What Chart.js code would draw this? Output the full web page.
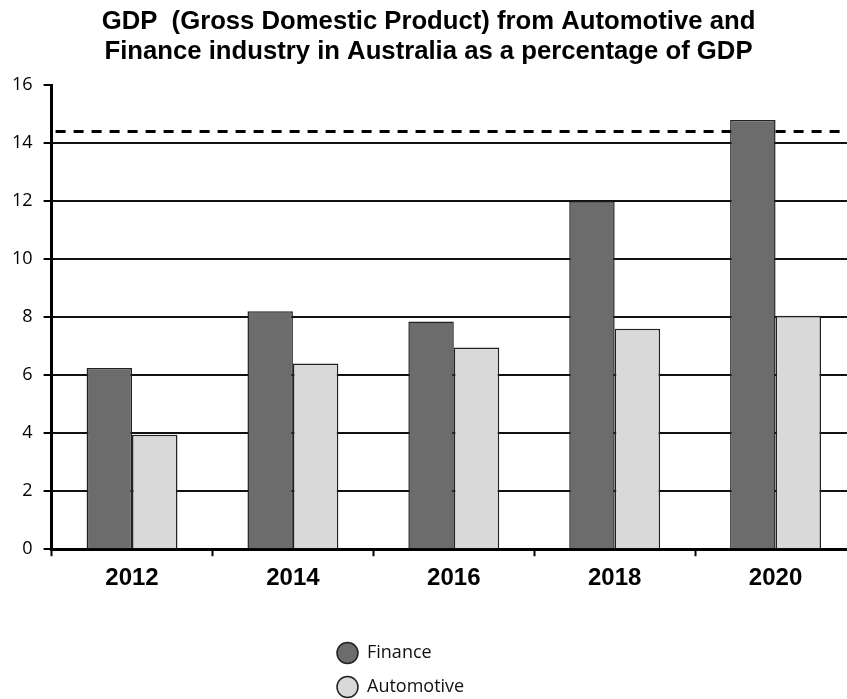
<!DOCTYPE html>
<html>
<head>
<meta charset="utf-8">
<title>GDP from Automotive and Finance industry in Australia</title>
<script src="https://cdn.jsdelivr.net/npm/chart.js@4.4.1/dist/chart.umd.min.js"></script>
<style>
  html, body { margin: 0; padding: 0; background: #ffffff; overflow: hidden; }
  #wrap { width: 847px; height: 699px; overflow: hidden; }
  canvas { display: block; }
</style>
</head>
<body>
<div id="wrap"><canvas id="gdp" width="860" height="699"></canvas></div>
<script>
// Share of GDP (%) by industry and year
const years = ['2012', '2014', '2016', '2018', '2020'];
const finance = [6.25, 8.2, 7.85, 12.0, 14.8];
const automotive = [3.95, 6.4, 6.95, 7.6, 8.05];
// Reference level shown as a dashed horizontal line
const referenceLevel = 14.4;
// Value axis range
const yMin = 0;
const yMax = 16;
const yStep = 2;

const titleLines = [
  'GDP  (Gross Domestic Product) from Automotive and',
  'Finance industry in Australia as a percentage of GDP'
];

Chart.defaults.font.family = "'Open Sans', sans-serif";
Chart.defaults.color = '#000';

// Dashed reference line drawn behind the bars
const dashedLevel = {
  id: 'dashedLevel',
  beforeDatasetsDraw(chart) {
    const { ctx, chartArea, scales } = chart;
    const py = scales.y.getPixelForValue(referenceLevel);
    ctx.save();
    ctx.beginPath();
    ctx.setLineDash([10, 8]);
    ctx.lineWidth = 3;
    ctx.strokeStyle = '#000';
    ctx.moveTo(chartArea.left + 4, py);
    ctx.lineTo(chartArea.right, py);
    ctx.stroke();
    ctx.restore();
  }
};

// Stack the legend entries in a single column under the plot
const legendColumn = {
  id: 'legendColumn',
  afterLayout(chart) {
    const lg = chart.legend;
    lg.left = 321;
    lg.right = 560;
    lg.width = lg.right - lg.left;
    lg.top = 628;
    lg.bottom = chart.height;
    lg.height = lg.bottom - lg.top;
  }
};

new Chart(document.getElementById('gdp'), {
  type: 'bar',
  data: {
    labels: years,
    datasets: [
      {
        label: 'Finance',
        data: finance,
        backgroundColor: '#6c6c6c',
        borderColor: '#222222',
        borderWidth: 1.5,
        barPercentage: 1,
        categoryPercentage: 0.565
      },
      {
        label: 'Automotive',
        data: automotive,
        backgroundColor: '#d9d9d9',
        borderColor: '#222222',
        borderWidth: 1.5,
        barPercentage: 1,
        categoryPercentage: 0.565
      }
    ]
  },
  options: {
    responsive: false,
    animation: false,
    devicePixelRatio: 1,
    layout: { padding: { left: 1, right: 4, top: 0, bottom: 54 } },
    plugins: {
      title: {
        display: true,
        text: titleLines,
        color: '#000',
        font: { family: "'Liberation Sans', Arial, sans-serif", size: 25.7, weight: 'bold', lineHeight: 1.17 },
        padding: { top: 7, bottom: 18 }
      },
      legend: {
        position: 'bottom',
        align: 'start',
        labels: {
          usePointStyle: true,
          pointStyle: 'circle',
          pointStyleWidth: 21,
          boxHeight: 14.85,
          padding: 16,
          color: '#111',
          font: { size: 18 }
        }
      },
      tooltip: { enabled: false }
    },
    scales: {
      x: {
        grid: {
          display: true,
          drawOnChartArea: false,
          drawTicks: true,
          tickLength: 7,
          tickColor: '#000',
          tickWidth: 2
        },
        border: { display: true, color: '#000', width: 3 },
        ticks: {
          color: '#000',
          padding: 8,
          font: { family: "'Liberation Sans', Arial, sans-serif", size: 24, weight: 'bold' }
        }
      },
      y: {
        min: yMin,
        max: yMax,
        ticks: {
          stepSize: yStep,
          color: '#000',
          padding: 11,
          font: { size: 18 }
        },
        grid: {
          color: (c) => (c.tick && c.tick.value === yMax ? 'rgba(0,0,0,0)' : '#111'),
          lineWidth: 2,
          tickLength: 8,
          tickColor: '#000',
          tickWidth: 2
        },
        border: { display: true, color: '#000', width: 3 }
      }
    }
  },
  plugins: [dashedLevel, legendColumn]
});
</script>
</body>
</html>
